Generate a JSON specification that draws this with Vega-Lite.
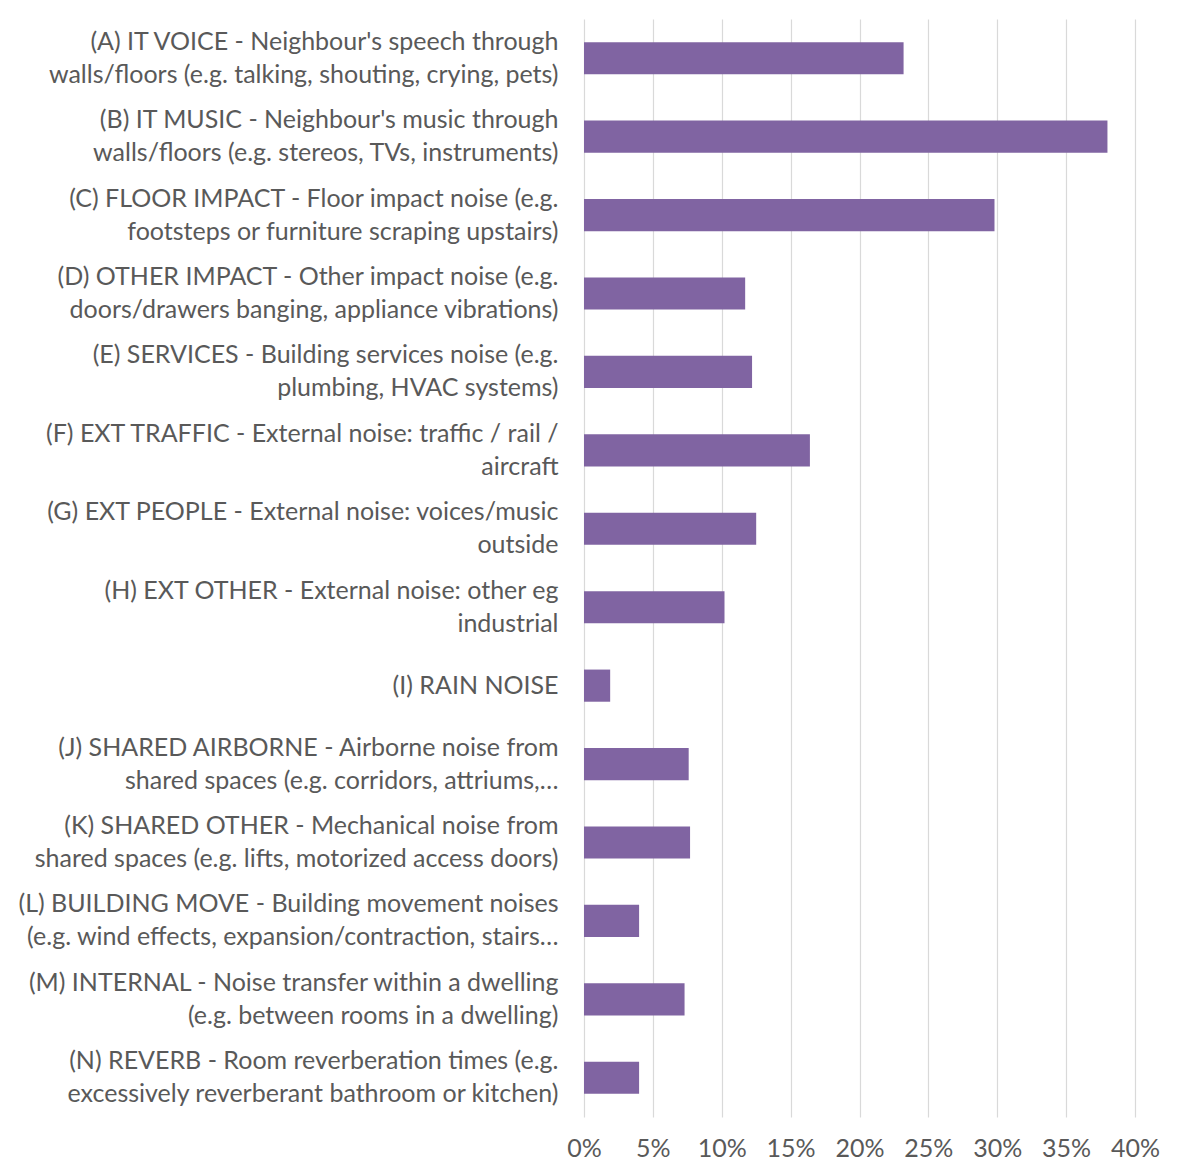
{
  "$schema": "https://vega.github.io/schema/vega-lite/v6.json",
  "width": 551,
  "height": 1098,
  "autosize": {"type": "none"},
  "padding": {"left": 584, "top": 19, "right": 54, "bottom": 58},
  "background": "white",
  "config": {
    "view": {"stroke": null},
    "font": "Lato",
    "axis": {"labelFont": "Lato", "labelColor": "#595959", "labelFontSize": 25, "labelFontWeight": "normal"}
  },
  "data": {
    "values": [
      {"category": "(A) IT VOICE - Neighbour's speech through|walls/floors (e.g. talking, shouting, crying, pets)", "share": 0.232},
      {"category": "(B) IT MUSIC - Neighbour's music through|walls/floors (e.g. stereos, TVs, instruments)", "share": 0.380},
      {"category": "(C) FLOOR IMPACT - Floor impact noise (e.g.|footsteps or furniture scraping upstairs)", "share": 0.298},
      {"category": "(D) OTHER IMPACT - Other impact noise (e.g.|doors/drawers banging, appliance vibrations)", "share": 0.117},
      {"category": "(E) SERVICES - Building services noise (e.g.|plumbing, HVAC systems)", "share": 0.122},
      {"category": "(F) EXT TRAFFIC - External noise: traffic / rail /|aircraft", "share": 0.164},
      {"category": "(G) EXT PEOPLE - External noise: voices/music|outside", "share": 0.125},
      {"category": "(H) EXT OTHER - External noise: other eg|industrial", "share": 0.102},
      {"category": "(I) RAIN NOISE", "share": 0.019},
      {"category": "(J) SHARED AIRBORNE - Airborne noise from|shared spaces (e.g. corridors, attriums,…", "share": 0.076},
      {"category": "(K) SHARED OTHER - Mechanical noise from|shared spaces (e.g. lifts, motorized access doors)", "share": 0.077},
      {"category": "(L) BUILDING MOVE - Building movement noises|(e.g. wind effects, expansion/contraction, stairs…", "share": 0.040},
      {"category": "(M) INTERNAL - Noise transfer within a dwelling|(e.g. between rooms in a dwelling)", "share": 0.073},
      {"category": "(N) REVERB - Room reverberation times (e.g.|excessively reverberant bathroom or kitchen)", "share": 0.040}
    ]
  },
  "mark": {"type": "bar", "color": "#8064A2"},
  "encoding": {
    "y": {
      "field": "category",
      "type": "nominal",
      "sort": null,
      "scale": {"paddingInner": 0.59, "paddingOuter": 0.295},
      "axis": {
        "title": null,
        "ticks": false,
        "domain": false,
        "labelPadding": 26,
        "labelLimit": 0,
        "labelLineHeight": 33,
        "labelExpr": "split(datum.label, '|')",
        "labelOffset": {"condition": {"test": "indexof(datum.value, '|') >= 0", "value": -16.5}, "value": 0}
      }
    },
    "x": {
      "field": "share",
      "type": "quantitative",
      "scale": {"domain": [0, 0.4], "nice": false},
      "axis": {
        "title": null,
        "format": ".0%",
        "values": [0, 0.05, 0.1, 0.15, 0.2, 0.25, 0.3, 0.35, 0.4],
        "grid": true,
        "gridColor": "#d9d9d9",
        "gridWidth": 1.2,
        "ticks": false,
        "domain": false,
        "labelPadding": 19,
        "labelFlush": false
      }
    }
  }
}
